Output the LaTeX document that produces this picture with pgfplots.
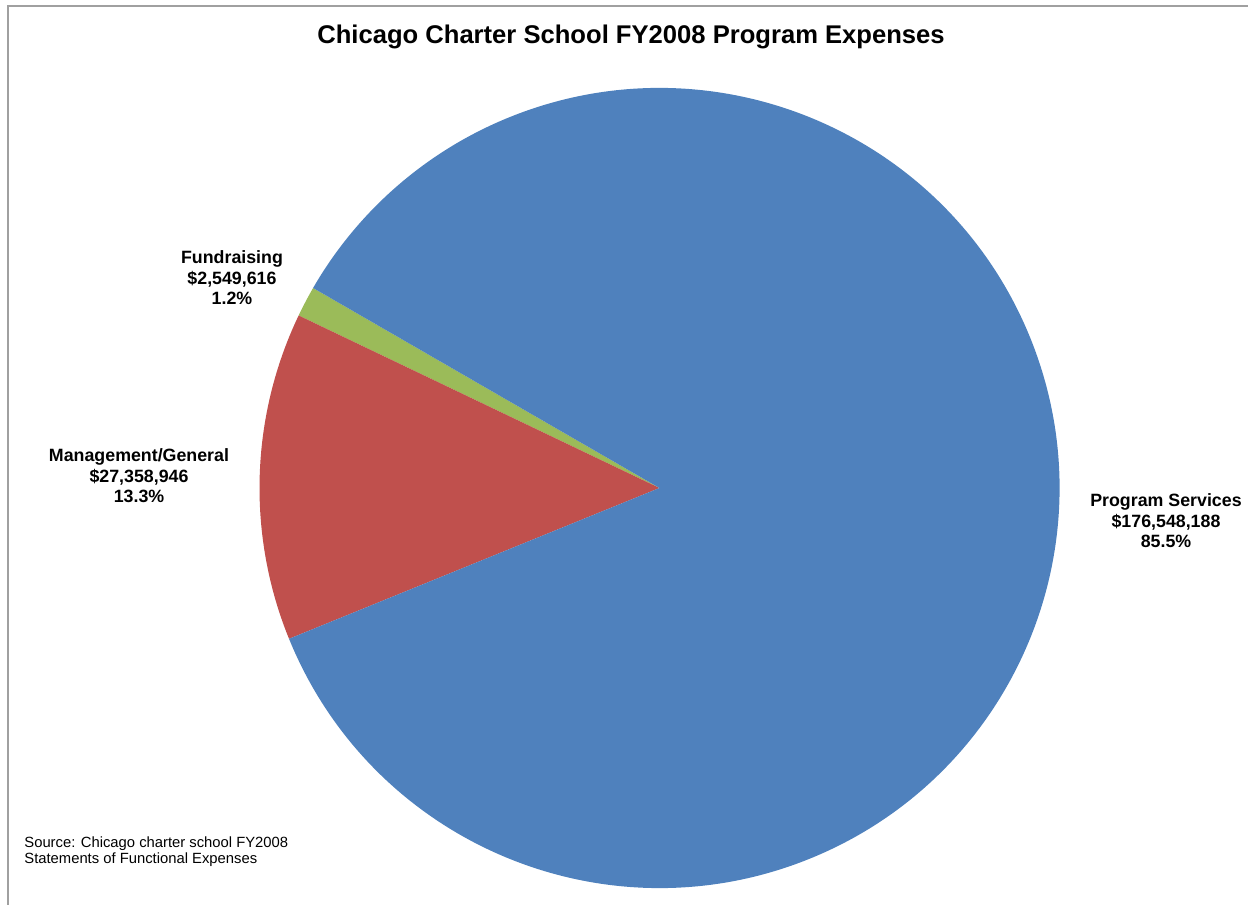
\documentclass[border=0pt]{standalone}
\usepackage{pgfplots}
\usepackage{pgfplotstable}
\pgfplotsset{compat=1.18}
\usepackage{fontspec}
\setmainfont{Liberation Sans}
\definecolor{psblue}{HTML}{4F81BD}
\definecolor{mgred}{HTML}{C0504D}
\definecolor{frgreen}{HTML}{9BBB59}
\definecolor{framegray}{HTML}{A0A0A0}
\pgfplotstableread{
part value
Program 176548188
Management 27358946
Fundraising 2549616
}\expdata
\pgfplotstablegetelem{0}{value}\of\expdata \let\vPS\pgfplotsretval
\pgfplotstablegetelem{1}{value}\of\expdata \let\vMG\pgfplotsretval
\pgfplotstablegetelem{2}{value}\of\expdata \let\vFR\pgfplotsretval
\edef\vTot{\fpeval{\vPS+\vMG+\vFR}}
\def\aStart{150}
\edef\eFR{\fpeval{\aStart+360*\vFR/\vTot}}
\edef\eMG{\fpeval{\eFR+360*\vMG/\vTot}}
\edef\ePS{\fpeval{\aStart+360}}
\begin{document}
\begin{tikzpicture}
\begin{axis}[
  at={(0,0)}, anchor=south west,
  scale only axis, width=624pt, height=452.5pt,
  xmin=0, xmax=1248, ymin=0, ymax=905,
  hide axis, clip=false,
]
% frame (top and left edges visible)
\draw[framegray, line width=1pt] (axis cs:8,0) -- (axis cs:8,899) -- (axis cs:1248,899);
% pie wedges
\fill[frgreen] (axis cs:659.5,417) -- ++(\aStart:200pt) arc[start angle=\aStart, end angle=\eFR, radius=200pt] -- cycle;
\fill[mgred] (axis cs:659.5,417) -- ++(\eFR:200pt) arc[start angle=\eFR, end angle=\eMG, radius=200pt] -- cycle;
\fill[psblue] (axis cs:659.5,417) -- ++(\eMG:200pt) arc[start angle=\eMG, end angle=\ePS, radius=200pt] -- cycle;
% title
\node[font=\fontsize{12.8pt}{15pt}\selectfont\bfseries] at (axis cs:631,868) {Chicago Charter School FY2008 Program Expenses};
% labels
\node[align=center, font=\fontsize{8.9pt}{10.3pt}\selectfont\bfseries] at (axis cs:232,627) {Fundraising\\\$2,549,616\\1.2\%};
\node[align=center, font=\fontsize{8.9pt}{10.3pt}\selectfont\bfseries] at (axis cs:139,429) {Management/General\\\$27,358,946\\13.3\%};
\node[align=center, font=\fontsize{8.9pt}{10.3pt}\selectfont\bfseries] at (axis cs:1166,384) {Program Services\\\$176,548,188\\85.5\%};
% source
\node[align=left, anchor=west, inner sep=0pt, font=\fontsize{7.4pt}{8pt}\selectfont] at (axis cs:24,53) {Source: Chicago charter school FY2008\\Statements of Functional Expenses};
\end{axis}
\pgfresetboundingbox
\path[use as bounding box] (0,0) rectangle (624pt,452.5pt);
\end{tikzpicture}
\end{document}
